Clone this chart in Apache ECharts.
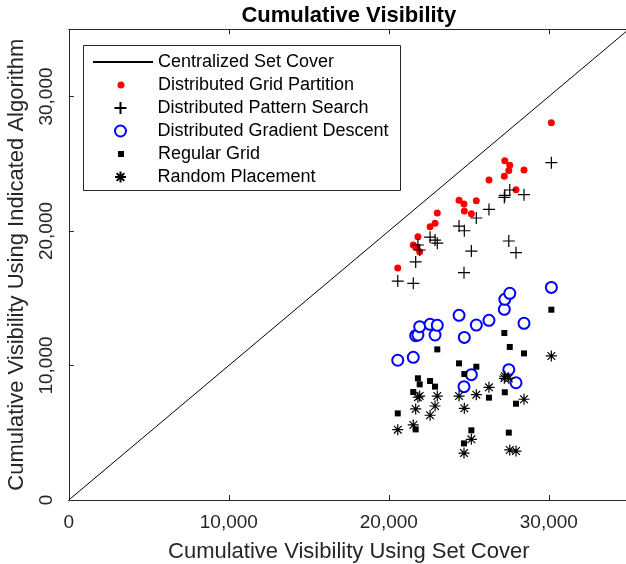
<!DOCTYPE html>
<html>
<head>
<meta charset="utf-8">
<script src="https://cdn.jsdelivr.net/npm/echarts@6/dist/echarts.min.js"></script>
<style>
html,body{margin:0;padding:0;background:#fff;}
#chart{width:626px;height:564px;}
</style>
</head>
<body>
<div id="chart"></div>
<script>
// Cumulative visibility using set cover (x) for each trial
const setCover = [20560, 21530, 21680, 21820, 21930, 22580, 22890, 23030, 24390, 24700, 24720, 25160, 25470, 26260, 27220, 27250, 27500, 27560, 27950, 28450, 30160];
// Cumulative visibility using each algorithm (y), same trial order
const gridPartition   = [17250, 18960, 18790, 19580, 18460, 20320, 20570, 21340, 22280, 22010, 21490, 21290, 22250, 23790, 24070, 25230, 24510, 24890, 23070, 24540, 28050];
const patternSearch   = [16280, 16110, 17700, 18960, 18590, 19540, 19330, 19100, 20370, 16900, 20020, 18510, 20970, 21610, 22500, 22650, 19260, 23050, 18390, 22700, 25080];
const gradientDescent = [10390, 10610, 12220, 12270, 12890, 13060, 12270, 12990, 13730, 8430, 12090, 9320, 13010, 13360, 14180, 14920, 9690, 15370, 8720, 13140, 15810];
const regularGrid     = [6440, 8030, 5250, 9050, 8600, 8850, 8430, 11200, 10160, 4210, 9370, 5180, 9910, 7610, 12420, 8010, 5010, 11380, 7160, 10900, 14150];
const randomPlacement = [5230, 5580, 6770, 7640, 7730, 6300, 6990, 7730, 7730, 3490, 6820, 4510, 7830, 8380, 9050, 9200, 9050, 3720, 3640, 7490, 10710];
const diagonal = [0, 35000];

const seriesNames = ['Centralized Set Cover', 'Distributed Grid Partition', 'Distributed Pattern Search', 'Distributed Gradient Descent', 'Regular Grid', 'Random Placement'];

const FONT = '"Liberation Sans", Arial, Helvetica, sans-serif';
const AX = '#262626';
const fmt = v => String(v).replace(/\B(?=(\d{3})+(?!\d))/g, ',');
const pairs = ys => setCover.map((x, i) => [x, ys[i]]);

const PLUS = 'path://M0,5L10,5M5,0L5,10';
const STAR = 'path://M0,5L10,5M5,0L5,10M1.5,1.5L8.5,8.5M1.5,8.5L8.5,1.5';
const SQUARE = 'path://M0,0L10,0L10,10L0,10Z';

const chart = echarts.init(document.getElementById('chart'), null, {renderer: 'canvas'});

const rowY = [61, 84, 107, 130, 153, 176];
function lineLegend(i) {
  return {
    data: [seriesNames[i]], left: 92, top: rowY[i] - 8, padding: 0,
    itemWidth: 60, itemHeight: 14, selectedMode: false,
    textStyle: {fontFamily: FONT, fontSize: 18, color: '#000'}
  };
}
function symLegend(i, h, dx) {
  return {
    data: [seriesNames[i]], left: 121 - h / 2 + dx, top: rowY[i] - 8, padding: 0,
    itemWidth: 64, itemHeight: h, selectedMode: false,
    textStyle: {fontFamily: FONT, fontSize: 18, color: '#000'}
  };
}

const option = {
  animation: false,
  backgroundColor: '#fff',
  title: {
    text: 'Cumulative Visibility', left: 348.8, top: 5, padding: 0, textAlign: 'center',
    textStyle: {fontFamily: FONT, fontSize: 22, fontWeight: 'bold', color: '#000'}
  },
  grid: {left: 68.8, right: -2.8, top: 29.3, bottom: 64, containLabel: false, outerBoundsMode: 'none'},
  xAxis: [{
    type: 'value', min: 0, max: 35000, interval: 10000, position: 'bottom',
    name: 'Cumulative Visibility Using Set Cover', nameLocation: 'middle', nameGap: 41,
    nameTextStyle: {fontFamily: FONT, fontSize: 22, color: AX},
    axisLine: {show: true, lineStyle: {color: AX, width: 1}},
    axisTick: {show: true, inside: true, length: 5, lineStyle: {color: AX}},
    axisLabel: {fontFamily: FONT, fontSize: 19, color: AX, margin: 13, formatter: fmt, showMaxLabel: false},
    splitLine: {show: false}
  }, {
    type: 'value', min: 0, max: 35000, interval: 10000, position: 'top',
    axisLine: {show: true, lineStyle: {color: AX, width: 1}},
    axisTick: {show: true, inside: true, length: 5, lineStyle: {color: AX}},
    axisLabel: {show: false}, splitLine: {show: false}
  }],
  yAxis: [{
    type: 'value', min: 0, max: 35000, interval: 10000,
    name: 'Cumulative Visibility Using Indicated Algorithm', nameLocation: 'middle', nameGap: 41, nameRotate: 90,
    nameTextStyle: {fontFamily: FONT, fontSize: 22, color: AX},
    axisLine: {show: true, lineStyle: {color: AX, width: 1}},
    axisTick: {show: true, inside: true, length: 5, lineStyle: {color: AX}},
    axisLabel: {fontFamily: FONT, fontSize: 19, color: AX, margin: 13, rotate: 90, formatter: fmt, showMaxLabel: false},
    splitLine: {show: false}
  }],
  legend: [
    lineLegend(0),
    symLegend(1, 7, 0),
    symLegend(2, 12, -1.5),
    symLegend(3, 11, -1.5),
    symLegend(4, 6, 0),
    symLegend(5, 11, -1.5)
  ],
  graphic: [{
    type: 'rect', z: 3,
    shape: {x: 83.5, y: 45.5, width: 317, height: 145},
    style: {fill: '#fff', stroke: AX, lineWidth: 1}
  }],
  series: [
    {
      name: seriesNames[0], type: 'line', symbol: 'none', z: 1,
      data: diagonal.map(v => [v, v]),
      lineStyle: {color: '#000', width: 1},
      itemStyle: {color: 'rgba(0,0,0,0)', borderWidth: 0}
    },
    {
      name: seriesNames[1], type: 'scatter', symbol: 'circle', symbolSize: 7,
      data: pairs(gridPartition),
      itemStyle: {color: '#ff0000', opacity: 1}
    },
    {
      name: seriesNames[2], type: 'scatter', symbol: PLUS, symbolSize: 12,
      data: pairs(patternSearch),
      itemStyle: {color: 'rgba(0,0,0,0)', borderColor: '#000', borderWidth: 1.2, opacity: 1}
    },
    {
      name: seriesNames[3], type: 'scatter', symbol: 'emptyCircle', symbolSize: 11,
      data: pairs(gradientDescent),
      itemStyle: {color: '#0000ff', borderColor: '#0000ff', borderWidth: 1.5, opacity: 1}
    },
    {
      name: seriesNames[4], type: 'scatter', symbol: SQUARE, symbolSize: 6,
      data: pairs(regularGrid),
      itemStyle: {color: '#000', opacity: 1}
    },
    {
      name: seriesNames[5], type: 'scatter', symbol: STAR, symbolSize: 11,
      data: pairs(randomPlacement),
      itemStyle: {color: 'rgba(0,0,0,0)', borderColor: '#000', borderWidth: 1.2, opacity: 1}
    }
  ]
};
chart.setOption(option);
</script>
</body>
</html>
